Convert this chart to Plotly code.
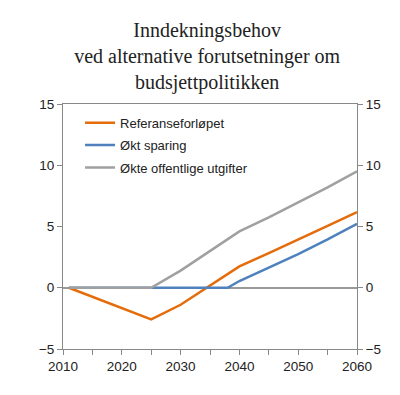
import plotly.graph_objects as go

years = [2011, 2025, 2030, 2035, 2038, 2040, 2045, 2050, 2055, 2060]
referanse = [0.0, -2.58, -1.39, 0.15, 1.1, 1.74, 2.83, 3.92, 5.05, 6.18]
okt_sparing = [0.0, 0.0, 0.0, 0.0, 0.0, 0.55, 1.65, 2.75, 3.95, 5.22]
okte_utgifter = [0.0, 0.0, 1.4, 3.0, 3.95, 4.6, 5.75, 6.95, 8.2, 9.5]

names = ["Referanseforløpet", "Økt sparing", "Økte offentlige utgifter"]
colors = ["#E46C0A", "#4F81BD", "#A0A0A0"]
series = [referanse, okt_sparing, okte_utgifter]

title_text = "Inndekningsbehov<br>ved alternative forutsetninger om<br>budsjettpolitikken"
y_ticks = [-5, 0, 5, 10, 15]
x_ticks = [2010, 2020, 2030, 2040, 2050, 2060]

fig = go.Figure()
for i, (n, c, s) in enumerate(zip(names, colors, series)):
    fig.add_trace(go.Scatter(x=years, y=s, name=n, mode="lines",
                             line=dict(color=c, width=2.5),
                             legendgroup=f"g{i}"))
# invisible trace for the right axis
fig.add_trace(go.Scatter(x=years, y=referanse, yaxis="y2", mode="lines",
                         line=dict(width=0), showlegend=False, hoverinfo="skip"))

axis_color = "#888888"
fig.update_layout(
    width=392, height=387,
    margin=dict(l=55, r=43, t=96, b=46),
    paper_bgcolor="white", plot_bgcolor="white",
    font=dict(family="Liberation Sans, Arial, sans-serif", size=13, color="#222222"),
    title=dict(text=title_text, x=0.508, xanchor="center", y=0.925, yanchor="top",
               font=dict(family="Liberation Serif, Times New Roman, serif", size=20, color="#222222")),
    showlegend=True,
    legend=dict(x=0.058, y=0.985, xanchor="left", yanchor="top",
                bgcolor="rgba(0,0,0,0)", tracegroupgap=2.5,
                font=dict(size=13, color="#222222")),
    xaxis=dict(range=[2010, 2060], tickvals=x_ticks, ticks="outside", ticklen=5,
               tickcolor=axis_color, showline=True, linecolor=axis_color, linewidth=1,
               mirror=True, showgrid=False, zeroline=False,
               minor=dict(dtick=5, ticks="outside", ticklen=5, tickcolor=axis_color),
               tickfont=dict(size=13.5)),
    yaxis=dict(range=[-5, 15], tickvals=y_ticks, ticks="outside", ticklen=5,
               tickcolor=axis_color, showline=True, linecolor=axis_color, linewidth=1,
               showgrid=False, zeroline=True, zerolinecolor="#999999", zerolinewidth=1.5,
               tickfont=dict(size=13.5)),
    yaxis2=dict(range=[-5, 15], tickvals=y_ticks, ticks="outside", ticklen=5,
                tickcolor=axis_color, showline=True, linecolor=axis_color, linewidth=1,
                overlaying="y", side="right", showgrid=False, zeroline=False,
                tickfont=dict(size=13.5)),
)

fig.write_html("out.html")
